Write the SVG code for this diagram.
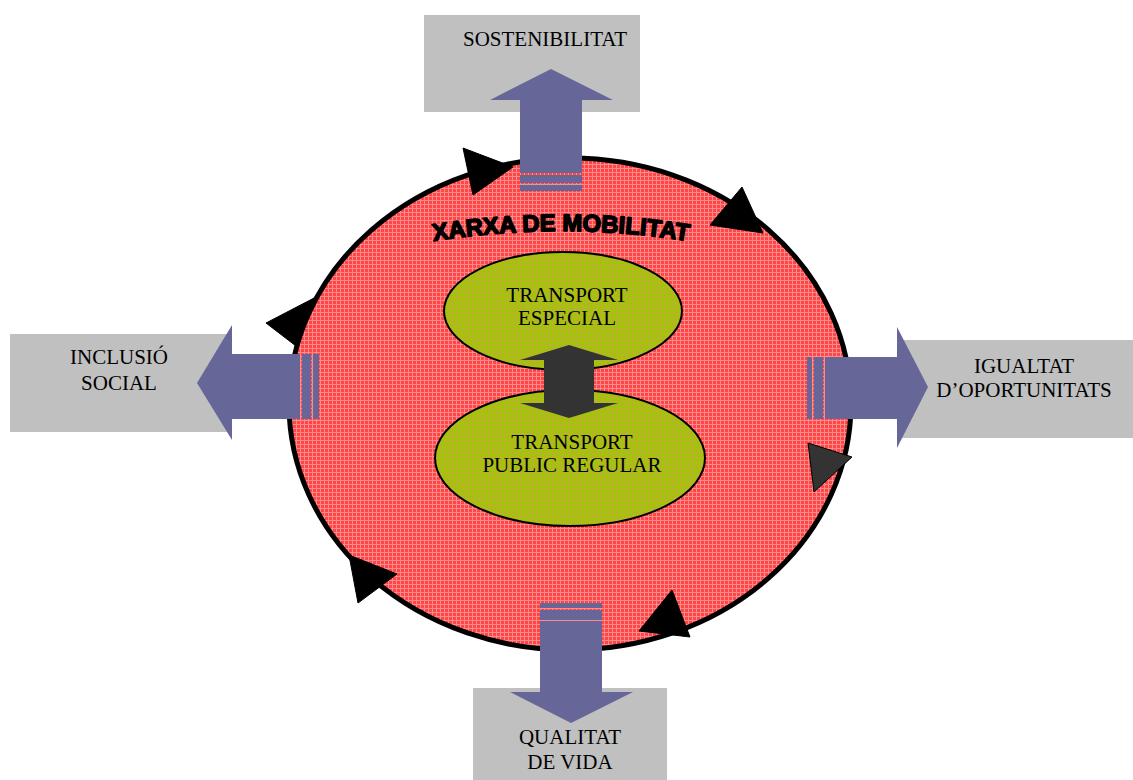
<svg xmlns="http://www.w3.org/2000/svg" width="1133" height="780" viewBox="0 0 1133 780">
  <defs>
    <!-- fine grid fills -->
    <pattern id="gridRed" width="4" height="4" patternUnits="userSpaceOnUse">
      <rect width="4" height="4" fill="#ff4545"/>
      <path d="M0 0.5H4M0.5 0V4" stroke="#ff8c8c" stroke-width="1"/>
    </pattern>
    <pattern id="gridOlive" width="4" height="4" patternUnits="userSpaceOnUse">
      <rect width="4" height="4" fill="#a0c800"/>
      <path d="M0 0.5H4M0.5 0V4" stroke="#bcae34" stroke-width="1"/>
    </pattern>
    <path id="titleArc" d="M428,242 A818,818 0 0,1 694,242"/>
  </defs>
  <style>
    .box { fill: #c0c0c0; }
    .label { font-family: "Liberation Serif", "Times New Roman", serif; font-size: 21px; fill: #000; text-anchor: middle; }
    .flow { fill: #666699; }
    .turn { fill: #000; stroke: #000; stroke-width: 1; stroke-linejoin: miter; }
    .title { font-family: "Liberation Sans", Arial, sans-serif; font-weight: 900; font-size: 24px; fill: #000; stroke: #000; stroke-width: 1.6; stroke-linejoin: round; }
    .inner { fill: url(#gridOlive); stroke: #000; stroke-width: 2; }
  </style>

  <rect width="1133" height="780" fill="#fff"/>

  <!-- outcome boxes -->
  <g id="box-sostenibilitat">
    <rect class="box" x="424" y="15" width="216" height="97"/>
    <text class="label" x="545" y="46">SOSTENIBILITAT</text>
  </g>
  <g id="box-inclusio">
    <rect class="box" x="10" y="334" width="222" height="98"/>
    <text class="label" x="119" y="364">INCLUSIÓ</text>
    <text class="label" x="119" y="390">SOCIAL</text>
  </g>
  <g id="box-igualtat">
    <rect class="box" x="900" y="340" width="233" height="98"/>
    <text class="label" x="1024" y="373">IGUALTAT</text>
    <text class="label" x="1024" y="397">D’OPORTUNITATS</text>
  </g>
  <g id="box-qualitat">
    <rect class="box" x="473" y="688" width="194" height="92"/>
    <text class="label" x="570" y="744">QUALITAT</text>
    <text class="label" x="570" y="769">DE VIDA</text>
  </g>

  <!-- mobility network -->
  <g id="xarxa">
    <ellipse cx="570" cy="404" rx="281" ry="246" fill="url(#gridRed)" stroke="#000" stroke-width="5"/>
    <text class="title"><textPath href="#titleArc" startOffset="50%" text-anchor="middle" textLength="256" lengthAdjust="spacingAndGlyphs">XARXA DE MOBILITAT</textPath></text>
  </g>

  <g id="transport-especial">
    <ellipse class="inner" cx="563" cy="311" rx="119" ry="59"/>
    <text class="label" x="567" y="302">TRANSPORT</text>
    <text class="label" x="567" y="325">ESPECIAL</text>
  </g>
  <g id="transport-regular">
    <ellipse class="inner" cx="570" cy="458" rx="135" ry="68"/>
    <text class="label" x="572" y="449">TRANSPORT</text>
    <text class="label" x="572" y="472">PUBLIC REGULAR</text>
  </g>

  <g id="connectors">
    <!-- two-way link between the transport services -->
    <path fill="#333333" d="M569,345 L618,360 L594,360 L594,403 L618,403 L569,418 L520,403 L544,403 L544,360 L520,360 Z"/>

    <!-- outward arrows with striped tails -->
    <g class="flow">
      <!-- up -->
      <path d="M551,69 L613,100 L582,100 L582,173 L520,173 L520,100 L490,100 Z"/>
      <rect x="520" y="175" width="62" height="8"/>
      <rect x="520" y="185" width="62" height="6"/>
      <!-- left -->
      <path d="M197,383 L232,325 L232,354 L300,354 L300,419 L232,419 L232,440 Z"/>
      <rect x="302" y="354" width="9" height="65"/>
      <rect x="313" y="354" width="6" height="65"/>
      <!-- right -->
      <path d="M928,387 L897,327 L897,357 L825,357 L825,419 L897,419 L897,448 Z"/>
      <rect x="814" y="357" width="9" height="62"/>
      <rect x="807" y="357" width="5" height="62"/>
      <!-- down -->
      <path d="M571,723 L633,692 L602,692 L602,621 L540,621 L540,692 L510,692 Z"/>
      <rect x="540" y="610" width="62" height="10"/>
      <rect x="540" y="603" width="62" height="5"/>
    </g>

    <!-- circulation markers on the ring -->
    <polygon class="turn" points="463,148 513,167 473,195"/>
    <polygon class="turn" points="742,187 763,233 710,225"/>
    <polygon class="turn" points="808,443 852,457 814,492" style="fill:#333333"/>
    <polygon class="turn" points="672,590 690,637 639,631"/>
    <polygon class="turn" points="349,555 397,574 358,603"/>
    <polygon class="turn" points="266,323 316,297 296,346"/>
  </g>
</svg>
